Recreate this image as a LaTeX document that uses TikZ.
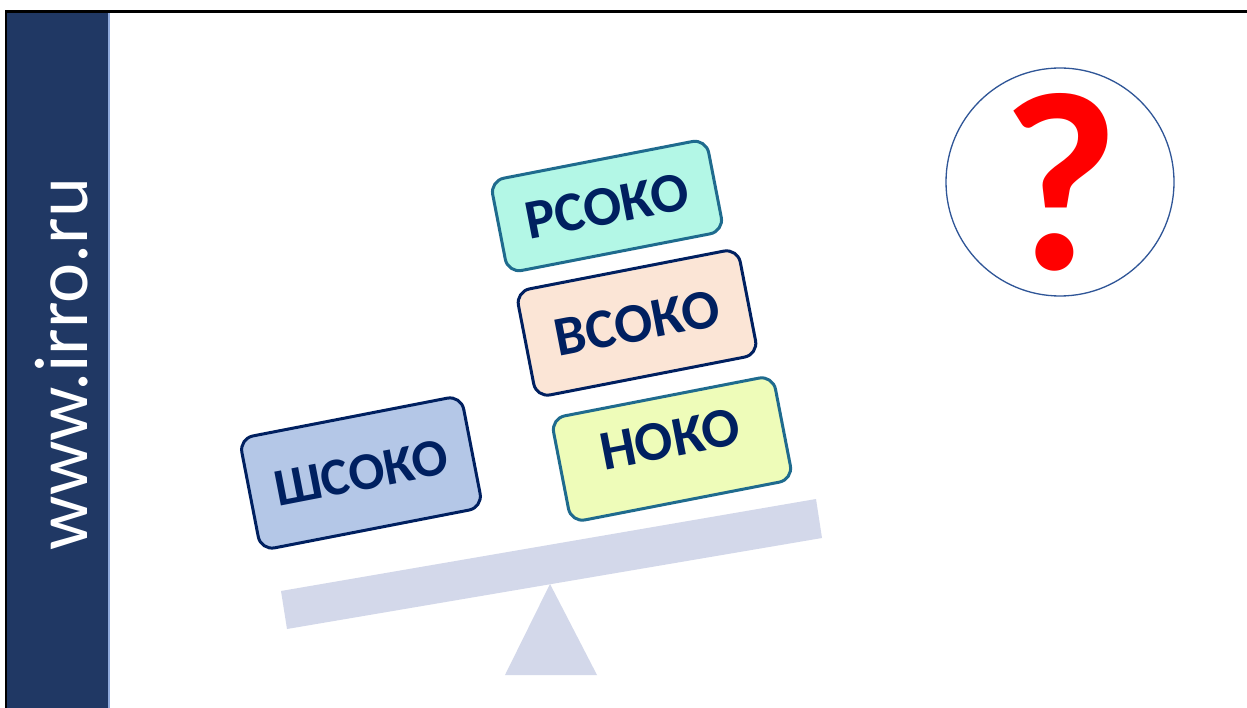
\documentclass[tikz,border=0pt]{standalone}
\usepackage{fontspec}
\setmainfont{Carlito}
\definecolor{sidebar}{HTML}{203864}
\definecolor{stripe}{HTML}{8FAADC}
\definecolor{navy}{HTML}{002060}
\definecolor{tealb}{HTML}{1F6B8E}
\definecolor{fillA}{HTML}{B4C7E7}
\definecolor{fillB}{HTML}{B3F7E6}
\definecolor{fillC}{HTML}{FBE5D6}
\definecolor{fillD}{HTML}{EEFCB9}
\definecolor{beamc}{HTML}{D3D8EA}
\definecolor{ringc}{HTML}{2F5597}
\begin{document}
\begin{tikzpicture}[x=1pt,y=-1pt,
  levelbox/.style={draw, line width=3pt, rounded corners=14pt, rotate=11,
    text=navy, font=\fontsize{56}{56}\selectfont\bfseries, inner sep=0pt, align=center},
  beamshape/.style={fill=beamc, draw=none}]
\useasboundingbox (0,0) rectangle (1247,708);
\fill[white] (0,0) rectangle (1247,708);
% sidebar
\fill[sidebar] (7,12) rectangle (107.5,708);
\fill[stripe] (107.5,12) rectangle (109.5,708);
\draw[black, line width=2.5pt] (6,708) -- (6,11.5) -- (1247,11.5);
\node[rotate=90, anchor=base, text=white, font=\fontsize{76}{76}\selectfont] (site) at (87,364) {www.irro.ru};
% seesaw
\fill[beamshape] (281,591) -- (816,499) -- (822,538) -- (287,629) -- cycle;
\fill[beamshape] (550,584) -- (597,675) -- (505,675) -- cycle;
\coordinate (pivot) at (550,584);
% boxes
\node[levelbox, fill=fillA, draw=navy, minimum width=226pt, minimum height=114pt, font=\fontsize{53}{53}\selectfont\bfseries] (shsoko) at (361,473) {ШСОКО};
\node[levelbox, fill=fillB, draw=tealb, minimum width=220pt, minimum height=94pt] (rsoko) at (607,206) {РСОКО};
\node[levelbox, fill=fillC, draw=navy, minimum width=226pt, minimum height=108pt] (vsoko) at (637,323) {ВСОКО};
\node[levelbox, fill=fillD, draw=tealb, minimum width=226pt, minimum height=106pt, text depth=20pt] (noko) at (672,449) {НОКО};
% question
\node[circle, draw=ringc, line width=1.3pt, fill=white, minimum size=228pt, inner sep=0pt] (ring) at (1060,182) {};
\node[anchor=base, text=red, font=\fontsize{255}{255}\selectfont\bfseries, inner sep=0pt] (qmark) at (1061,270) {?};
\end{tikzpicture}
\end{document}
